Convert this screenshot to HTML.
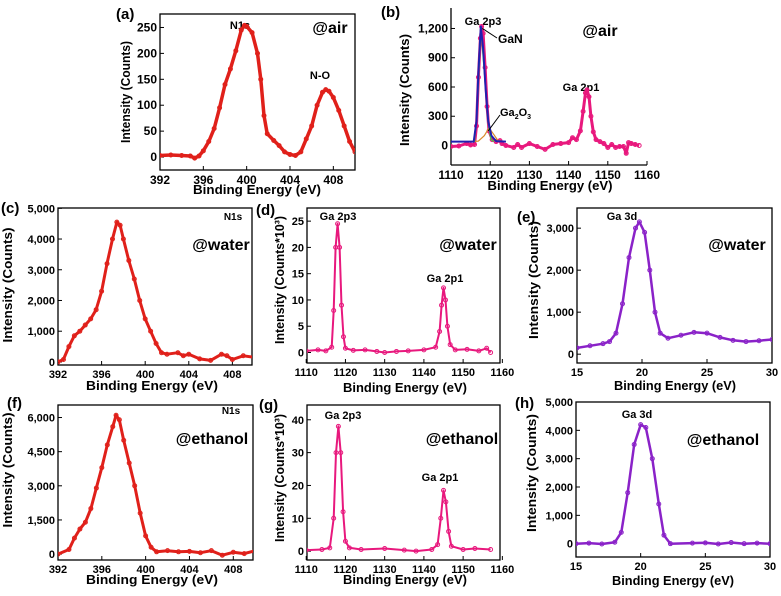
<!DOCTYPE html>
<html><head><meta charset="utf-8">
<style>
html,body{margin:0;padding:0;background:#fff;}
svg{display:block;font-family:"Liberation Sans",Arial,sans-serif;font-weight:bold;}
</style></head>
<body>
<svg id="fig" width="781" height="596" viewBox="0 0 781 596"></svg>
<script>
// ---- data arrays ----
const aX=[392,393,394,394.8,395.2,395.6,396,396.5,397,397.5,398,398.5,399,399.5,399.8,400,400.5,401,401.3,401.6,401.9,402.5,403,403.5,404,404.5,405,405.5,406,406.5,407,407.3,407.6,408,408.5,409,409.5,410];
const aY=[3,4,3,2,-2,2,12,30,55,95,140,170,205,245,254,252,240,200,150,80,45,32,22,10,5,3,10,35,60,100,125,130,127,115,90,60,30,10];
const bX=[1110,1112,1114,1115,1116,1116.5,1117,1117.5,1117.8,1118.2,1118.7,1119.2,1119.7,1120.5,1121.5,1122.5,1123,1124,1126,1127,1128,1130,1132,1134,1136,1138,1140,1141,1142,1143,1143.7,1144.3,1144.7,1145.2,1145.7,1146.3,1147,1148,1149,1150,1151,1152,1153,1154,1154.7,1155.3,1156,1157,1158];
const bY=[-10,-5,20,5,10,200,700,1100,1220,1150,800,400,150,60,40,50,20,0,-20,10,-20,20,-10,-40,10,20,30,80,60,150,350,540,570,500,300,140,60,40,20,-20,10,-20,-10,-10,-80,30,20,10,0];
const bFitX=[1110,1115.8,1116.5,1117,1117.6,1118.2,1118.8,1119.5,1120.3,1121.5,1124];
const bFitY=[40,40,250,750,1220,1000,600,250,100,45,40];
const bGaNX=[1110,1116,1116.6,1117.6,1118.6,1119.4,1120.2,1121];
const bGaNY=[40,40,300,1200,700,250,60,40];
const bOxX=[1115,1117,1118.5,1119.7,1120.8,1122,1124];
const bOxY=[40,45,100,180,120,50,40];
const cX=[392,392.5,393,393.5,394,394.5,395,395.5,396,396.5,397,397.4,397.7,398,398.5,399,399.5,400,400.5,401,401.5,402,403,403.5,404,405,406,407,407.5,408,409,410];
const cY=[0,80,500,850,1000,1200,1400,1700,2300,3200,4000,4550,4450,4000,3300,2700,2000,1400,1000,600,300,250,300,200,250,100,50,250,200,80,200,150];
const dX=[1110,1113,1115,1116.5,1117,1117.5,1118,1118.5,1119,1119.5,1120,1122,1125,1128,1130,1133,1136,1140,1143,1144,1144.5,1145,1145.5,1146,1146.7,1148,1151,1154,1156,1157];
const dY=[0.3,0.5,0.3,1,8,20,24.5,20,9,3,0.8,0.4,0.5,0.2,0,0.2,0.3,0.5,1,4,9,12.3,10,5,1.5,0.5,0.6,0.3,0.8,0];
const eX=[15,16,17,17.5,18,18.5,19,19.5,19.8,20.2,20.6,21,21.4,22,23,24,25,26,27,28,29,30];
const eY=[150,200,250,300,500,1200,2300,3000,3150,2900,2000,1000,500,380,450,520,500,400,330,300,320,350];
const fX=[392,393,393.5,394,394.5,395,395.5,396,396.5,397,397.3,397.6,398,398.5,399,399.5,400,400.5,401,402,403,404,405,406,407,408,409,410];
const fY=[0,200,700,1100,1400,2000,2900,3800,4800,5600,6100,5900,5000,4000,3000,1800,800,300,100,150,100,120,60,150,-50,80,20,150];
const gX=[1110,1114,1116,1117,1117.6,1118.2,1118.8,1119.4,1120,1121,1124,1130,1135,1138,1142,1143.5,1144.3,1145,1145.6,1146.3,1147,1150,1153,1157];
const gY=[0.3,0.5,1,10,30,38,30,12,3,1,0.5,0.8,0.3,0,0.5,2,10,18.5,15,6,1.5,0.5,0.8,0.5];
const hX=[15,16,17,18,18.5,19,19.5,20,20.4,20.9,21.4,21.8,22.3,24,25,26,27,28,29,30];
const hY=[0,20,-10,50,400,1800,3500,4200,4100,3000,1400,300,0,20,30,-10,40,0,20,0];
const ticksA=[0,50,100,150,200,250], ticksAx=[392,396,400,404,408];
const ticksB=[0,300,600,900,1200], ticksGa=[1110,1120,1130,1140,1150,1160];
const ticksC=[0,1000,2000,3000,4000,5000], ticksD=[0,5,10,15,20,25];
const ticksE=[0,1000,2000,3000], ticksEx=[15,20,25,30];
const ticksF=[0,1500,3000,4500,6000], ticksG=[0,10,20,30,40], ticksH=[0,1000,2000,3000,4000,5000];

const NS="http://www.w3.org/2000/svg";
const svg=document.getElementById('fig');
function el(tag,attrs,parent,txt){const e=document.createElementNS(NS,tag);for(const k in attrs)e.setAttribute(k,attrs[k]);if(txt!==undefined)e.textContent=txt;(parent||svg).appendChild(e);return e;}
function fmt(v){return v>=1000?v.toLocaleString('en-US'):String(v);}

function panel(p){
  const g=el('g',{});
  
  
  const sx=v=>p.L+(v-p.x0)/(p.x1-p.x0)*(p.R-p.L);
  const sy=v=>p.B-(v-p.y0)/(p.y1-p.y0)*(p.B-p.T);
  if(p.box){const r=el('rect',{x:p.L,y:p.T,width:p.R-p.L,height:p.B-p.T,fill:'none',stroke:'#000','stroke-width':1.3},g);
    }
  else{el('line',{x1:p.L,y1:p.T,x2:p.L,y2:p.B,stroke:'#000','stroke-width':1.3},g);el('line',{x1:p.L,y1:p.B,x2:p.R,y2:p.B,stroke:'#000','stroke-width':1.3},g);}
  p.yt.forEach(v=>{const y=sy(v);el('line',{x1:p.L,y1:y,x2:p.L+4,y2:y,stroke:'#000'},g);
    const t=el('text',{x:p.L-3,y:y+4,'font-size':p.fs,'text-anchor':'end'},g,fmt(v));
    });
  p.xt.forEach(v=>{const x=sx(v);el('line',{x1:x,y1:p.B,x2:x,y2:p.B-4,stroke:'#000'},g);
    const t=el('text',{x:x,y:p.B+p.fs+2,'font-size':p.fs,'text-anchor':'middle'},g,String(v));
    });
  const xt=el('text',{x:p.xtx,y:p.xty,'font-size':13,'text-anchor':'middle',textLength:p.xtl,lengthAdjust:'spacingAndGlyphs'},g,'Binding Energy (eV)');
  
  const yt=el('text',{x:0,y:0,'font-size':13,'text-anchor':'middle',transform:`translate(${p.ytx},${p.yty}) rotate(-90)`,textLength:p.ytl,lengthAdjust:'spacingAndGlyphs'},g,p.ylab);
  
  const lb=el('text',{x:p.lx,y:p.ly,'font-size':15},g,'('+p.id+')');
  
  (p.notes||[]).forEach(n=>{const t=el('text',{x:n[0],y:n[1],'font-size':n[3]||11,'text-anchor':'middle'},g,n[2]);
    });
  const cond=el('text',{x:p.cx,y:p.cy,'font-size':16,'text-anchor':'middle'},g,p.cond);
  
  const clip='clip'+p.id;
  const cp=el('clipPath',{id:clip},g);el('rect',{x:p.L,y:p.T,width:p.R-p.L,height:p.B-p.T},cp);
  const sg=el('g',{'clip-path':`url(#${clip})`},g);
  (p.series).forEach(s=>{
    const pts=s.x.map((x,i)=>sx(x).toFixed(1)+','+sy(s.y[i]).toFixed(1)).join(' ');
    const pl=el('polyline',{points:pts,fill:'none',stroke:s.c,'stroke-width':s.w,'stroke-linejoin':'round'},sg);
    
    if(s.m){s.x.forEach((x,i)=>{const c=el('circle',{cx:sx(x),cy:sy(s.y[i]),r:2,fill:'none',stroke:s.c,'stroke-width':1},sg);
      });}
  });
  return {sx,sy,g};
}
const red='#e0201a', pink='#e8187d', purp='#8a22c8';
const YC='Intensity (Counts)', YK='Intensity (Counts*10³)';
panel({id:'a',L:160,R:355,T:14,B:170,x0:392,x1:410,y0:-25,y1:276,yt:ticksA,xt:ticksAx,fs:12,box:true,
  xtx:257,xty:194,xtl:128,ytx:130,yty:92,ytl:102,ylab:YC,lx:116,ly:19,cx:330,cy:33,cond:'@air',
  notes:[[240,29,'N1s'],[320,79,'N-O']],series:[{x:aX,y:aY,c:red,w:3.5,m:true,name:'n1s-air-series'}]});
const pb=panel({id:'b',L:451,R:647,T:8,B:165,x0:1110,x1:1160,y0:-200,y1:1410,yt:ticksB,xt:ticksGa,fs:12,box:false,
  xtx:550,xty:190,xtl:125,ytx:409,yty:90,ytl:112,ylab:YC,lx:381,ly:17,cx:600,cy:36,cond:'@air',
  notes:[[483,25,'Ga 2p3'],[581,91,'Ga 2p1']],
  series:[{x:bX,y:bY,c:pink,w:3,m:true,name:'ga2p-air-series'},{x:bOxX,y:bOxY,c:'#d98a2a',w:1.2,name:'ga2o3-fit'},{x:bGaNX,y:bGaNY,c:'#3cd23c',w:1.2,name:'gan-fit'},{x:bFitX,y:bFitY,c:'#2020b0',w:2,name:'envelope-fit'}]});
(function(){const t1=el('text',{x:498,y:43,'font-size':12},pb.g,'GaN');
 el('line',{x1:pb.sx(1118),y1:pb.sy(1200),x2:497,y2:38,stroke:'#000','stroke-width':1},pb.g);
 const t2=el('text',{x:500,y:116,'font-size':11},pb.g,'Ga');
 el('tspan',{dy:3,'font-size':7},t2,'2');el('tspan',{dy:-3},t2,'O');el('tspan',{dy:3,'font-size':7},t2,'3');
 el('line',{x1:pb.sx(1119.5),y1:pb.sy(150),x2:500,y2:115,stroke:'#000','stroke-width':1},pb.g);})();
panel({id:'c',L:58,R:252,T:208,B:365,x0:392,x1:409.8,y0:-100,y1:5010,yt:ticksC,xt:ticksAx,fs:11,box:true,
  xtx:152,xty:390,xtl:132,ytx:12,yty:285,ytl:115,ylab:YC,lx:1,ly:213,cx:221,cy:250,cond:'@water',
  notes:[[233,220,'N1s',10]],series:[{x:cX,y:cY,c:red,w:3,m:true,name:'n1s-water-series'}]});
panel({id:'d',L:307,R:500,T:208,B:363,x0:1110.2,x1:1159.4,y0:-2,y1:27.5,yt:ticksD,xt:ticksGa,fs:11,box:true,
  xtx:405,xty:392,xtl:124,ytx:284,yty:280,ytl:128,ylab:YK,lx:256,ly:215,cx:468,cy:250,cond:'@water',
  notes:[[338,220,'Ga 2p3'],[445,282,'Ga 2p1']],series:[{x:dX,y:dY,c:pink,w:2,m:true,name:'ga2p-water-series'}]});
panel({id:'e',L:577,R:772,T:208,B:363,x0:15,x1:30,y0:-210,y1:3480,yt:ticksE,xt:ticksEx,fs:11,box:true,
  xtx:675,xty:390,xtl:122,ytx:538,yty:280,ytl:118,ylab:YC,lx:517,ly:222,cx:737,cy:250,cond:'@water',
  notes:[[622,220,'Ga 3d']],series:[{x:eX,y:eY,c:purp,w:2.5,m:true,name:'ga3d-water-series'}]});
panel({id:'f',L:58,R:253,T:405,B:560,x0:392,x1:409.8,y0:-260,y1:6550,yt:ticksF,xt:ticksAx,fs:11,box:true,
  xtx:152,xty:584,xtl:132,ytx:12,yty:470,ytl:115,ylab:YC,lx:7,ly:408,cx:212,cy:444,cond:'@ethanol',
  notes:[[231,414,'N1s',10]],series:[{x:fX,y:fY,c:red,w:3,m:true,name:'n1s-ethanol-series'}]});
panel({id:'g',L:307,R:500,T:405,B:560,x0:1110.2,x1:1159.4,y0:-2.7,y1:44.5,yt:ticksG,xt:ticksGa,fs:11,box:true,
  xtx:405,xty:584,xtl:124,ytx:284,yty:478,ytl:128,ylab:YK,lx:259,ly:410,cx:462,cy:444,cond:'@ethanol',
  notes:[[343,419,'Ga 2p3'],[440,481,'Ga 2p1']],series:[{x:gX,y:gY,c:pink,w:2,m:true,name:'ga2p-ethanol-series'}]});
panel({id:'h',L:576,R:770,T:402,B:557,x0:15,x1:30,y0:-470,y1:5000,yt:ticksH,xt:ticksEx,fs:11,box:true,
  xtx:673,xty:585,xtl:122,ytx:536,yty:473,ytl:118,ylab:YC,lx:515,ly:408,cx:723,cy:445,cond:'@ethanol',
  notes:[[637,418,'Ga 3d']],series:[{x:hX,y:hY,c:purp,w:2.5,m:true,name:'ga3d-ethanol-series'}]});
</script>
</body></html>
